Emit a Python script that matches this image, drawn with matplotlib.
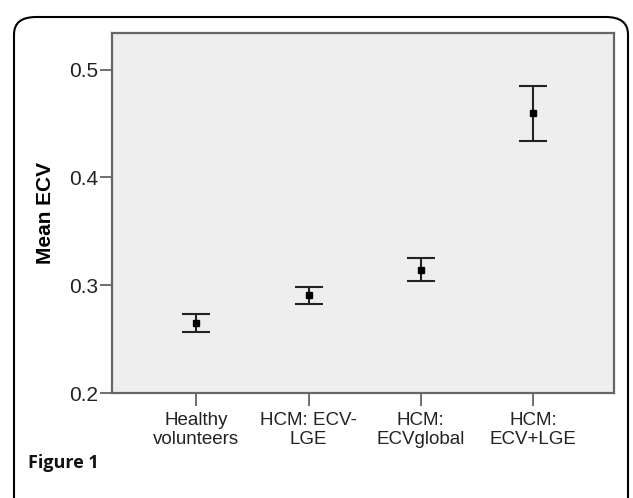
import matplotlib.pyplot as plt
from matplotlib.patches import FancyBboxPatch, Rectangle

groups = ["Healthy\nvolunteers", "HCM: ECV-\nLGE", "HCM:\nECVglobal", "HCM:\nECV+LGE"]
mean_ecv = [0.265, 0.2905, 0.314, 0.4595]
ci_low = [0.257, 0.2828, 0.3035, 0.4335]
ci_high = [0.273, 0.2985, 0.3255, 0.4848]
yticks = [0.2, 0.3, 0.4, 0.5]

fig = plt.figure(figsize=(6.33, 4.98), dpi=100)

# rounded frame around the figure (bottom runs off the image)
frame = FancyBboxPatch((14 / 633, -0.05), 614 / 633, 1 - 17 / 498 + 0.05,
                       boxstyle="round,pad=0,rounding_size=0.035",
                       transform=fig.transFigure, facecolor="none",
                       edgecolor="black", linewidth=1.5)
fig.patches.append(frame)

ax = fig.add_axes([112 / 633, 1 - 393 / 498, 502 / 633, 360 / 498])
ax.set_facecolor("#eeeeee")
plt.rcParams["hatch.color"] = "#fafafa"
plt.rcParams["hatch.linewidth"] = 0.8
ax.add_patch(Rectangle((0, 0), 1, 1, transform=ax.transAxes, facecolor="none",
                       edgecolor="none", hatch="...", zorder=0))

x = range(len(groups))
lower = [m - l for m, l in zip(mean_ecv, ci_low)]
upper = [h - m for m, h in zip(mean_ecv, ci_high)]
ax.errorbar(x, mean_ecv, yerr=[lower, upper], fmt="s", color="black",
            ecolor="#222222", elinewidth=1.5, capsize=10, capthick=1.5,
            markersize=4.5, zorder=3)

ax.set_xlim(-0.75, 3.72)
ax.set_ylim(0.2, 0.534)
ax.set_yticks(yticks)
ax.set_yticklabels([f"{t:.1f}" for t in yticks], fontsize=15,
                   family="Liberation Sans", color="#222222")
ax.set_xticks(list(x))
ax.set_xticklabels(groups, fontsize=13.5, family="Liberation Sans",
                   color="#222222", linespacing=1.15)
ax.tick_params(axis="both", direction="out", length=9, width=1.2,
               color="#555555")
ax.tick_params(axis="x", pad=5)
ax.tick_params(axis="y", pad=1)
for s in ax.spines.values():
    s.set_color("#666666")
    s.set_linewidth(1.6)

ax.set_ylabel("Mean ECV", fontsize=15, fontweight="bold",
              family="Liberation Sans", labelpad=10)

fig.text(28 / 633, 1 - 463 / 498, "Figure 1", fontsize=13, fontweight="bold",
         family="Open Sans", color="#111111", va="center", ha="left")

fig.savefig("out.png", dpi=100)
